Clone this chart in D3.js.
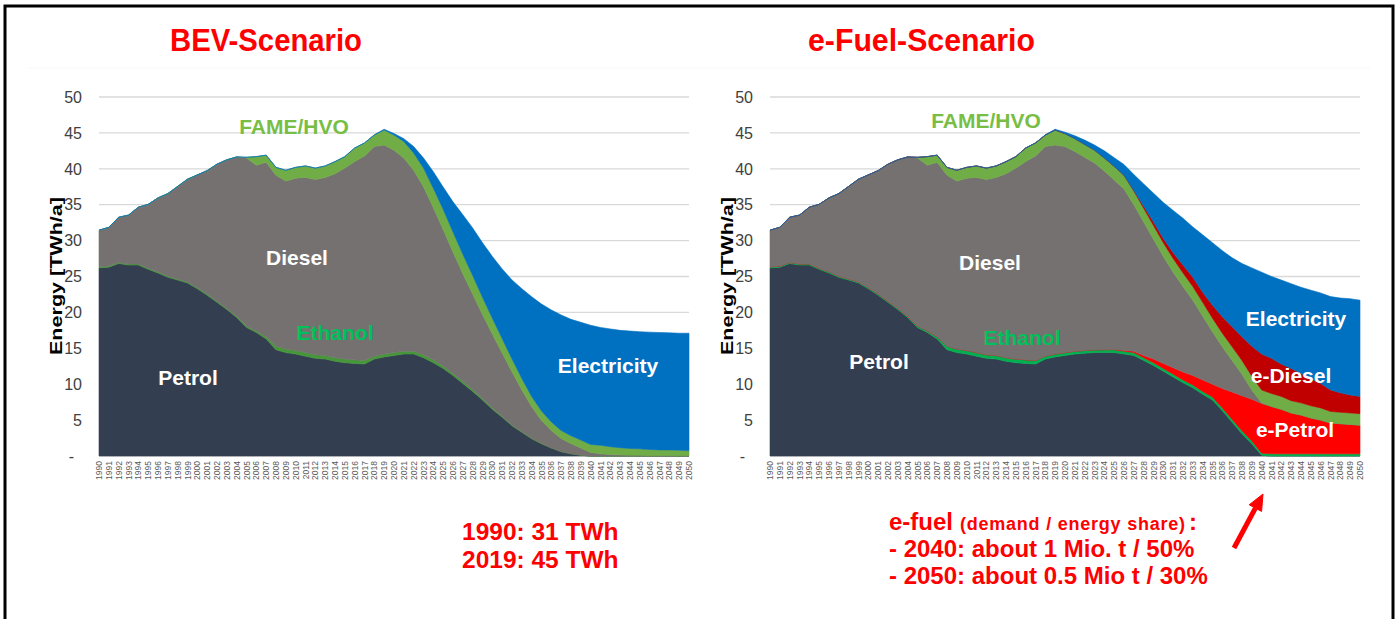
<!DOCTYPE html>
<html>
<head>
<meta charset="utf-8">
<script src="https://cdn.jsdelivr.net/npm/d3@7"></script>
<style>
  body { margin: 0; background: #fff; }
  svg text { font-family: "Liberation Sans", Arial, sans-serif; }
</style>
</head>
<body>
<script>
(function() {

  /* categories: one column per year */
  const years = d3.range(1990, 2051);
  const yTicks = [0, 5, 10, 15, 20, 25, 30, 35, 40, 45, 50];

  // history 1990-2019 (same in both scenarios), TWh/a
  const petrolHist  = [26.2, 26.3, 26.8, 26.6, 26.6, 26.0, 25.5, 24.9, 24.5, 24.1, 23.3, 22.4, 21.4, 20.4, 19.3,
                       17.9, 17.2, 16.3, 14.8, 14.4, 14.2, 13.9, 13.6, 13.5, 13.2, 13.0, 12.9, 12.8, 13.5, 13.8];
  const ethanolHist = [0.15, 0.15, 0.15, 0.15, 0.15, 0.15, 0.15, 0.15, 0.15, 0.15, 0.15, 0.15, 0.15, 0.15, 0.15,
                       0.2, 0.2, 0.3, 0.5, 0.5, 0.5, 0.5, 0.5, 0.5, 0.5, 0.5, 0.5, 0.5, 0.4, 0.4];
  const dieselHist  = [5.1, 5.4, 6.3, 6.8, 7.9, 8.9, 10.3, 11.5, 12.9, 14.3, 15.7, 17.2, 19.1, 20.7, 22.2,
                       23.4, 23.1, 24.3, 23.8, 23.4, 24.0, 24.4, 24.4, 24.8, 25.6, 26.6, 27.6, 28.5, 29.2, 29.1];
  const fameHist    = [0, 0, 0, 0, 0, 0, 0, 0, 0, 0, 0, 0, 0, 0, 0,
                       0.1, 1.2, 1.0, 1.1, 1.5, 1.5, 1.6, 1.6, 1.6, 1.7, 1.6, 1.9, 1.8, 1.6, 2.1];
  const elecHist    = [0, 0, 0, 0, 0, 0, 0, 0, 0, 0, 0, 0, 0, 0, 0,
                       0, 0, 0, 0, 0, 0, 0, 0, 0, 0, 0, 0, 0, 0.05, 0.1];

  // BEV scenario 2020-2050
  const petrolBEV  = [14.0, 14.2, 14.2, 13.7, 13.0, 12.2, 11.2, 10.1, 9.0, 7.8, 6.5, 5.4, 4.2, 3.3, 2.4, 1.7,
                      1.1, 0.6, 0.3, 0.1, 0, 0, 0, 0, 0, 0, 0, 0, 0, 0, 0];
  const ethanolBEV = [0.4, 0.4, 0.4, 0.4, 0.4, 0.35, 0.3, 0.3, 0.25, 0.2, 0.2, 0.15, 0.12, 0.1, 0.08, 0.06,
                      0.05, 0.04, 0.03, 0.02, 0, 0, 0, 0, 0, 0, 0, 0, 0, 0, 0];
  const dieselBEV  = [28.2, 26.9, 25.2, 23.4, 21.2, 19.0, 16.9, 15.0, 13.3, 11.7, 10.3, 8.8, 7.4, 5.8, 4.4, 3.2,
                      2.4, 1.8, 1.4, 1.0, 0.5, 0.3, 0.2, 0.15, 0.1, 0.1, 0.05, 0.05, 0.05, 0.05, 0.05];
  const fameBEV    = [2.1, 2.3, 2.4, 2.6, 2.7, 2.8, 2.8, 2.7, 2.6, 2.4, 2.2, 2.0, 1.8, 1.6, 1.4, 1.3,
                      1.2, 1.1, 1.1, 1.1, 1.1, 1.2, 1.1, 1.0, 0.95, 0.9, 0.85, 0.8, 0.8, 0.75, 0.7];
  const elecBEV    = [0.2, 0.4, 0.9, 1.4, 2.3, 3.1, 4.2, 5.5, 6.6, 7.6, 8.6, 9.7, 11.0, 12.5, 13.9, 14.9,
                      15.6, 16.1, 16.2, 16.4, 16.6, 16.4, 16.4, 16.35, 16.35, 16.3, 16.35, 16.35, 16.3, 16.3, 16.35];

  // e-Fuel scenario 2020-2050
  const petrolEF  = [14.0, 14.2, 14.3, 14.4, 14.4, 14.4, 14.2, 14.0, 13.3, 12.6, 11.8, 11.0, 10.2, 9.5, 8.6, 7.8,
                     6.3, 4.7, 3.1, 1.7, 0.1, 0, 0, 0, 0, 0, 0, 0, 0, 0, 0];
  const ethanolEF = [0.4, 0.4, 0.4, 0.4, 0.4, 0.4, 0.4, 0.4, 0.4, 0.4, 0.4, 0.4, 0.4, 0.4, 0.4, 0.4,
                     0.4, 0.4, 0.4, 0.4, 0.3, 0.3, 0.3, 0.3, 0.3, 0.3, 0.3, 0.3, 0.3, 0.3, 0.3];
  const ePetrolEF = [0, 0, 0, 0, 0, 0.05, 0.1, 0.2, 0.3, 0.5, 0.7, 0.9, 1.1, 1.3, 1.6, 1.8,
                     2.7, 3.8, 4.9, 5.8, 6.9, 6.6, 6.2, 5.7, 5.4, 5.0, 4.7, 4.3, 4.2, 4.1, 4.0];
  const dieselEF  = [28.7, 27.8, 26.9, 26.0, 24.9, 23.6, 22.5, 20.4, 18.6, 16.7, 14.9, 13.3, 11.9, 10.5, 8.9, 7.3,
                     5.8, 4.4, 3.0, 1.3, 0.1, 0, 0, 0, 0, 0, 0, 0, 0, 0, 0];
  const fameEF    = [1.8, 1.8, 1.8, 1.8, 1.8, 1.9, 1.9, 1.9, 1.9, 1.9, 1.9, 1.9, 1.9, 1.9, 1.9, 1.9,
                     1.9, 1.9, 1.9, 1.9, 1.8, 1.8, 1.8, 1.7, 1.7, 1.7, 1.7, 1.6, 1.6, 1.6, 1.6];
  const eDieselEF = [0, 0, 0, 0, 0, 0, 0, 0.1, 0.3, 0.5, 0.6, 0.8, 1.1, 1.3, 1.4, 1.8,
                     2.3, 2.8, 3.3, 4.2, 5.0, 4.9, 4.5, 4.5, 4.1, 3.8, 3.4, 3.0, 2.7, 2.5, 2.4];
  const elecEF    = [0.2, 0.4, 0.6, 0.7, 1.0, 1.2, 1.5, 2.2, 3.1, 4.0, 5.0, 5.9, 6.5, 7.0, 8.0, 8.7,
                     9.2, 9.6, 10.2, 10.9, 11.4, 11.4, 11.7, 11.8, 12.0, 12.3, 12.6, 13.0, 13.2, 13.4, 13.4];

  const zerosHist = years.slice(0, 30).map(() => 0);

  const colors = {
    petrol: "#333f50", ethanol: "#00b050", ePetrol: "#ff0000", diesel: "#767171",
    fame: "#70ad47", eDiesel: "#c00000", elec: "#0070c0"
  };

  const W = 1399, H = 619;
  const svg = d3.select("body").append("svg")
      .attr("width", W).attr("height", H);

  svg.append("rect").attr("width", W).attr("height", H).attr("fill", "#fff");

  /* one stacked area panel */
  function panel(cfg) {
    const x = d3.scalePoint().domain(years).range([cfg.left, cfg.right]);
    const y = d3.scaleLinear().domain([0, 50]).range([456, 97]);
    const g = svg.append("g");

    // gridlines
    g.selectAll(".grid").data(yTicks).enter().append("line")
        .attr("x1", cfg.left).attr("x2", cfg.right)
        .attr("y1", d => y(d)).attr("y2", d => y(d))
        .attr("stroke", "#d9d9d9").attr("stroke-width", 1.3);

    // rows for the stack
    const rows = years.map((yr, i) => {
      const r = { year: yr };
      cfg.keys.forEach(k => { r[k] = cfg.series[k][i]; });
      return r;
    });
    const stack = d3.stack().keys(cfg.keys)(rows);
    const area = d3.area()
        .x(d => x(d.data.year))
        .y0(d => y(d[0]))
        .y1(d => y(d[1]));

    g.selectAll(".layer").data(stack).enter().append("path")
        .attr("d", area)
        .attr("fill", d => cfg.colors[d.key])
        .attr("stroke", d => cfg.colors[d.key])
        .attr("stroke-width", 0.6);

    // y tick labels
    g.selectAll(".ytick").data(yTicks).enter().append("text")
        .attr("x", d => d === 0 ? cfg.left - 25 : cfg.left - 17)
        .attr("y", d => y(d))
        .attr("dy", "0.36em")
        .attr("text-anchor", "end")
        .attr("font-size", 16)
        .attr("fill", "#404040")
        .text(d => d === 0 ? "-" : d);

    // x tick labels, rotated
    g.selectAll(".xtick").data(years).enter().append("text")
        .attr("transform", d => "translate(" + (x(d) + 3) + ",461)rotate(-90)")
        .attr("text-anchor", "end")
        .attr("font-size", 8.5)
        .attr("fill", "#595959")
        .text(d => d);

    // axis title
    g.append("text")
        .attr("transform", "translate(" + (cfg.left - 43) + ",276)rotate(-90)")
        .attr("text-anchor", "middle")
        .attr("dy", "0.35em")
        .attr("font-size", 16.5)
        .attr("font-weight", "bold")
        .attr("fill", "#000")
        .attr("textLength", 158)
        .attr("lengthAdjust", "spacingAndGlyphs")
        .text("Energy [TWh/a]");

    // labels inside the chart
    g.selectAll(".lab").data(cfg.labels).enter().append("text")
        .attr("x", d => d.x).attr("y", d => d.y)
        .attr("dy", "0.36em")
        .attr("text-anchor", "middle")
        .attr("font-size", 21)
        .attr("font-weight", "bold")
        .attr("fill", d => d.c)
        .text(d => d.t);

    // scenario title
    g.append("text")
        .attr("x", cfg.title.x).attr("y", 51)
        .attr("font-family", "'Liberation Sans Narrow', 'DejaVu Sans Condensed', sans-serif")
        .attr("font-size", 31)
        .attr("font-weight", "bold")
        .attr("fill", "#ff0000")
        .attr("textLength", cfg.title.w)
        .attr("lengthAdjust", "spacingAndGlyphs")
        .text(cfg.title.t);
  }

  panel({
    left: 99, right: 689,
    keys: ["petrol", "ethanol", "diesel", "fame", "elec"],
    series: {
      petrol: petrolHist.concat(petrolBEV),
      ethanol: ethanolHist.concat(ethanolBEV),
      diesel: dieselHist.concat(dieselBEV),
      fame: fameHist.concat(fameBEV),
      elec: elecHist.concat(elecBEV)
    },
    colors: Object.assign({}, colors, { ethanol: "#46963a" }),
    labels: [
      { t: "FAME/HVO", x: 294, y: 126, c: "#78be45" },
      { t: "Diesel", x: 297, y: 257, c: "#fff" },
      { t: "Ethanol", x: 335, y: 332, c: "#00c05a" },
      { t: "Petrol", x: 188, y: 377, c: "#fff" },
      { t: "Electricity", x: 608, y: 365, c: "#fff" }
    ],
    title: { t: "BEV-Scenario", x: 170, w: 192 }
  });

  panel({
    left: 770, right: 1360,
    keys: ["petrol", "ethanol", "ePetrol", "diesel", "fame", "eDiesel", "elec"],
    series: {
      petrol: petrolHist.concat(petrolEF),
      ethanol: ethanolHist.concat(ethanolEF),
      ePetrol: zerosHist.concat(ePetrolEF),
      diesel: dieselHist.concat(dieselEF),
      fame: fameHist.concat(fameEF),
      eDiesel: zerosHist.concat(eDieselEF),
      elec: elecHist.concat(elecEF)
    },
    colors: colors,
    labels: [
      { t: "FAME/HVO", x: 986, y: 120, c: "#78be45" },
      { t: "Diesel", x: 990, y: 262, c: "#fff" },
      { t: "Ethanol", x: 1022, y: 337, c: "#00c05a" },
      { t: "Petrol", x: 879, y: 361, c: "#fff" },
      { t: "Electricity", x: 1296, y: 318, c: "#fff" },
      { t: "e-Diesel", x: 1291, y: 375, c: "#fff" },
      { t: "e-Petrol", x: 1295, y: 429, c: "#fff" }
    ],
    title: { t: "e-Fuel-Scenario", x: 808, w: 227 }
  });

  /* notes below the charts */
  const red = "#ff0000";
  svg.append("text").attr("x", 462).attr("y", 540)
      .attr("font-size", 24.5).attr("font-weight", "bold").attr("fill", red)
      .text("1990: 31 TWh");
  svg.append("text").attr("x", 462).attr("y", 568)
      .attr("font-size", 24.5).attr("font-weight", "bold").attr("fill", red)
      .text("2019: 45 TWh");

  svg.append("text").attr("x", 889).attr("y", 530)
      .attr("font-size", 24).attr("font-weight", "bold").attr("fill", red)
      .text("e-fuel");
  svg.append("text").attr("x", 960).attr("y", 530)
      .attr("font-size", 18).attr("font-weight", "bold").attr("fill", red)
      .attr("textLength", 225).attr("lengthAdjust", "spacing")
      .text("(demand / energy share)");
  svg.append("text").attr("x", 1189).attr("y", 530)
      .attr("font-size", 24).attr("font-weight", "bold").attr("fill", red)
      .text(":");
  svg.append("text").attr("x", 889).attr("y", 557)
      .attr("font-size", 24).attr("font-weight", "bold").attr("fill", red)
      .text("- 2040: about 1 Mio. t / 50%");
  svg.append("text").attr("x", 889).attr("y", 584)
      .attr("font-size", 24).attr("font-weight", "bold").attr("fill", red)
      .text("- 2050: about 0.5 Mio t / 30%");

  // arrow pointing at 2040
  svg.append("line")
      .attr("x1", 1234).attr("y1", 548).attr("x2", 1255.4).attr("y2", 508.1)
      .attr("stroke", red).attr("stroke-width", 5);
  svg.append("path")
      .attr("d", "M1263,494L1261.6,511.4L1249.2,504.8Z")
      .attr("fill", red).attr("stroke", red).attr("stroke-width", 1);

  // faint separator and frame
  svg.append("line").attr("x1", 27).attr("x2", 1370).attr("y1", 68).attr("y2", 68)
      .attr("stroke", "#f8f8f8").attr("stroke-width", 1);
  svg.append("rect").attr("x", 5).attr("y", 6).attr("width", 1388).attr("height", 640)
      .attr("fill", "none").attr("stroke", "#000").attr("stroke-width", 3);

})();
</script>
</body>
</html>
